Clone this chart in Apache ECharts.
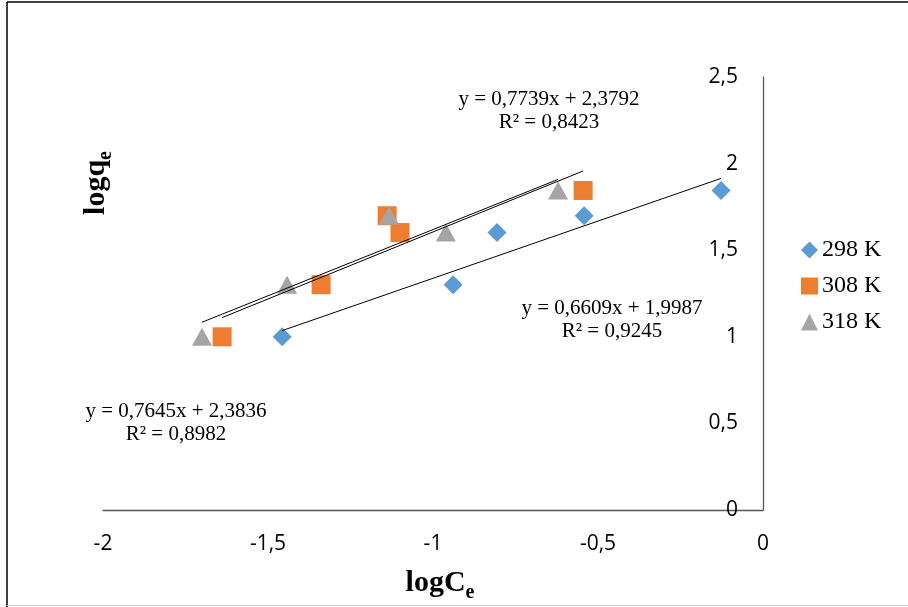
<!DOCTYPE html>
<html>
<head>
<meta charset="utf-8">
<style>
  html, body { margin: 0; padding: 0; background: #fff; }
  #chart { width: 908px; height: 607px; }
</style>
<script src="https://cdn.jsdelivr.net/npm/echarts@6/dist/echarts.min.js"></script>
</head>
<body>
<div id="chart"></div>
<script>
// Freundlich isotherm: log qe against log Ce at three temperatures
const seriesNames = ['298 K', '308 K', '318 K'];
const seriesColors = ['#5B9BD5', '#ED7D31', '#A5A5A5'];
const seriesSymbols = ['diamond', 'rect', 'triangle'];

const logCe298 = [-1.457, -0.939, -0.806, -0.542, -0.127];
const logqe298 = [1.000, 1.301, 1.602, 1.699, 1.845];
const logCe308 = [-1.639, -1.339, -1.139, -1.100, -0.545];
const logqe308 = [1.000, 1.301, 1.699, 1.602, 1.845];
const logCe318 = [-1.700, -1.442, -1.133, -0.961, -0.621];
const logqe318 = [1.000, 1.301, 1.699, 1.602, 1.845];

// Linear fits (y = a·x + b) and their R² for each temperature
const fitSlopes = [0.6609, 0.7739, 0.7645];
const fitIntercepts = [1.9987, 2.3792, 2.3836];
const fitR2 = [0.9245, 0.8423, 0.8982];

// Where each fit equation is written (centre of the first line)
const eqAnchors = [[612, 308], [549, 99], [176, 411]];

const xValues = [logCe298, logCe308, logCe318];
const yValues = [logqe298, logqe308, logqe318];

const comma = v => String(v).replace('.', ',');
const serif = 'Liberation Serif';

const scatterSeries = seriesNames.map((name, i) => ({
  name: name,
  type: 'scatter',
  symbol: seriesSymbols[i],
  symbolSize: i === 2 ? [20, 18] : 19,
  itemStyle: { color: seriesColors[i], opacity: 1 },
  data: xValues[i].map((x, k) => [x, yValues[i][k]]),
  z: 3
}));

// Trendlines span each series' own x-range
const trendSeries = seriesNames.map((name, i) => {
  const xs = xValues[i];
  const lo = Math.min(...xs), hi = Math.max(...xs);
  const f = x => fitSlopes[i] * x + fitIntercepts[i];
  return {
    name: name + ' fit',
    type: 'line',
    showSymbol: false,
    silent: true,
    lineStyle: { color: '#000', width: 1 },
    data: [[lo, f(lo)], [hi, f(hi)]],
    z: 4
  };
});

const eqTexts = seriesNames.map((name, i) => ({
  type: 'text',
  x: eqAnchors[i][0],
  y: eqAnchors[i][1] - 11.5,
  style: {
    text: 'y = ' + comma(fitSlopes[i]) + 'x + ' + comma(fitIntercepts[i]) +
          '\nR² = ' + comma(fitR2[i]),
    fontFamily: serif,
    fontSize: 21,
    lineHeight: 23,
    fill: '#000',
    align: 'center',
    verticalAlign: 'top'
  }
}));

const titleRich = {
  a: { fontFamily: serif, fontSize: 30, fontWeight: 'bold', lineHeight: 40, verticalAlign: 'middle', fill: '#000' },
  b: { fontFamily: serif, fontSize: 20, fontWeight: 'bold', lineHeight: 40, verticalAlign: 'bottom', fill: '#000' }
};

const chart = echarts.init(document.getElementById('chart'), null, { renderer: 'canvas' });
chart.setOption({
  animation: false,
  backgroundColor: '#fff',
  grid: { left: 103, right: 145, top: 77, bottom: 97, containLabel: false },
  xAxis: {
    type: 'value',
    min: -2, max: 0, interval: 0.5,
    axisLine: { onZero: false, lineStyle: { color: '#595959', width: 1.3 } },
    axisTick: { show: false },
    splitLine: { show: false },
    axisLabel: {
      margin: 24,
      color: '#000',
      fontFamily: 'Open Sans',
      fontSize: 21,
      formatter: v => comma(v)
    }
  },
  yAxis: {
    type: 'value',
    position: 'right',
    min: 0, max: 2.5, interval: 0.5,
    axisLine: { show: true, onZero: false, lineStyle: { color: '#595959', width: 1.3 } },
    axisTick: { show: false },
    splitLine: { show: false },
    axisLabel: {
      inside: true,
      margin: 25,
      color: '#000',
      fontFamily: 'Open Sans',
      fontSize: 21,
      formatter: v => comma(v)
    }
  },
  legend: {
    orient: 'vertical',
    left: 796,
    top: 233,
    itemWidth: 17,
    itemHeight: 17,
    itemGap: 12,
    textStyle: { fontFamily: serif, fontSize: 24, color: '#000', padding: [0, 0, 0, -1] },
    data: seriesNames.map((n, i) => ({ name: n, icon: seriesSymbols[i] }))
  },
  series: trendSeries.concat(scatterSeries),
  graphic: [
    // outer frame
    { type: 'line', shape: { x1: 7, y1: 2, x2: 908, y2: 2 }, style: { stroke: '#000', lineWidth: 1.5 } },
    { type: 'line', shape: { x1: 7, y1: 2, x2: 7, y2: 607 }, style: { stroke: '#000', lineWidth: 1.5 } },
    { type: 'line', shape: { x1: 7, y1: 605.5, x2: 908, y2: 605.5 }, style: { stroke: '#c8c8c8', lineWidth: 1 } },
    // axis titles
    {
      type: 'text', x: 440, y: 583,
      style: { text: '{a|logC}{b|e}', rich: titleRich, align: 'center', verticalAlign: 'middle' }
    },
    {
      type: 'text', x: 96, y: 183, rotation: Math.PI / 2,
      style: { text: '{a|logq}{b|e}', rich: titleRich, align: 'center', verticalAlign: 'middle' }
    }
  ].concat(eqTexts)
});
</script>
</body>
</html>
